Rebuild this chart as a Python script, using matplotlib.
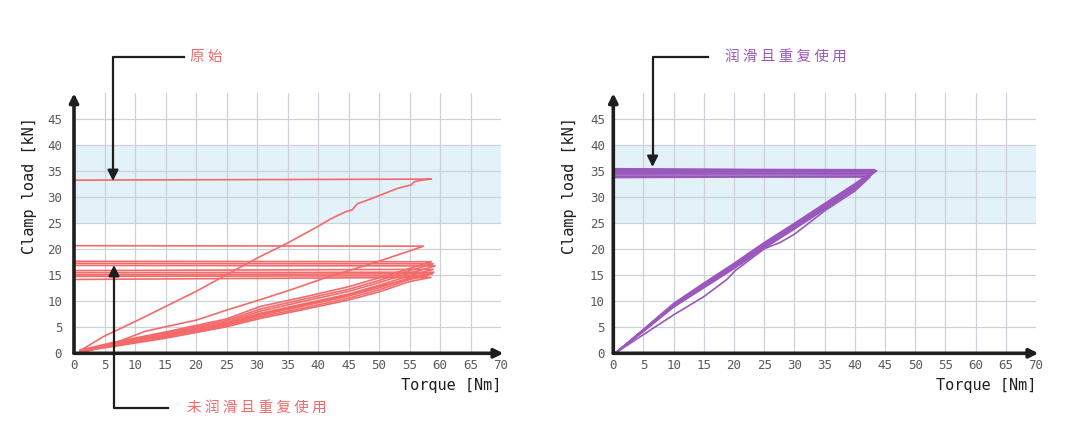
import matplotlib
matplotlib.use("Agg")
import matplotlib.pyplot as plt
from matplotlib.lines import Line2D
from matplotlib.patches import FancyArrowPatch

# ---------------- data ----------------
x_ticks = [0, 5, 10, 15, 20, 25, 30, 35, 40, 45, 50, 55, 60, 65, 70]
y_ticks = [0, 5, 10, 15, 20, 25, 30, 35, 40, 45]
band_low, band_high = 25, 40

# unlubricated & reused (red) – each cycle: tightening curve then torque release
red_x1 = [1.0, 4.8, 10, 15, 20, 25, 30, 35, 40, 42, 44.5, 45.6, 46.5, 48, 50.2, 53, 55.3, 55.8, 57, 58.6, 0]
red_y1 = [0.5, 3.2, 6.1, 9.0, 11.9, 15.1, 18.3, 21.2, 24.4, 25.8, 27.2, 27.6, 28.8, 29.4, 30.4, 31.7, 32.4, 33.0, 33.3, 33.5, 33.3]
red_x2 = [2.0, 6.5, 11.6, 15, 20.1, 25, 30.5, 36, 41.4, 44.5, 49.7, 55.3, 57.3, 0]
red_y2 = [0.3, 1.9, 4.2, 5.1, 6.4, 8.3, 10.3, 12.4, 14.6, 15.7, 17.6, 19.8, 20.6, 20.7]
cluster_x = [1.0, 6.4, 15, 25, 30.5, 38, 45, 50, 55]
red_c1_y = [0.6, 2.1, 4.1, 6.6, 9.0, 10.9, 12.8, 14.5, 16.3]
red_c2_y = [0.4, 1.9, 3.9, 6.3, 8.5, 10.5, 12.3, 14.0, 15.9]
red_c3_y = [0.3, 1.8, 3.7, 6.0, 8.1, 10.1, 11.9, 13.6, 15.4]
red_c4_y = [0.5, 1.7, 3.5, 5.8, 7.7, 9.6, 11.4, 13.1, 14.9]
red_c5_y = [0.2, 1.5, 3.3, 5.5, 7.3, 9.2, 11.0, 12.6, 14.5]
red_c6_y = [0.6, 1.4, 3.1, 5.3, 7.0, 8.8, 10.6, 12.2, 14.2]
red_c7_y = [0.4, 1.3, 2.9, 5.1, 6.7, 8.5, 10.25, 11.8, 13.8]
red_c8_y = [0.3, 1.6, 3.4, 5.6, 7.5, 9.4, 11.2, 12.9, 14.3]
red_peak_x = [58.6, 58.9, 59.2, 58.9, 59.0, 58.8, 58.5, 58.0]
red_peak_y = [17.6, 17.2, 16.8, 16.15, 15.6, 15.3, 14.6, 14.9]
red_release_y = [17.7, 17.3, 16.9, 15.9, 15.5, 15.1, 14.2, 14.8]

# lubricated & reused (purple)
pur_x = [0.3, 5, 10, 15, 20, 25, 30, 35, 40]
pur_y1 = [0, 4.5, 9.4, 13.2, 16.9, 20.9, 24.6, 28.4, 32.2]
pur_y2 = [0, 4.3, 9.1, 12.9, 16.6, 20.6, 24.3, 28.1, 31.9]
pur_y3 = [0, 4.6, 9.6, 13.5, 17.3, 21.3, 25.0, 28.8, 32.6]
pur_y4 = [0, 4.2, 8.9, 12.6, 16.3, 20.2, 23.9, 27.7, 31.5]
pur_y6 = [0, 4.4, 9.2, 13.0, 16.8, 20.7, 24.5, 28.3, 32.0]
pur_y7 = [0, 4.5, 9.3, 13.1, 17.0, 21.0, 24.7, 28.0, 31.7]
pur_y8 = [0, 4.3, 9.0, 12.8, 16.5, 20.4, 24.2, 27.9, 31.6]
pur_y9 = [0, 4.5, 9.4, 13.3, 17.1, 21.1, 24.8, 28.6, 32.4]
pur_peak_x = [43.5, 43.0, 43.3, 42.6, 43.2, 42.9, 42.2, 43.6]
pur_peak_y = [35.0, 34.7, 35.3, 34.3, 34.9, 34.5, 34.0, 35.1]
pur_release_y = [35.2, 34.6, 35.4, 34.3, 35.0, 34.8, 33.8, 35.5]
pur_x5 = [0.3, 5, 10, 15, 18.8, 20.2, 25, 27.6, 30, 35, 40, 42.5, 0]
pur_y5 = [0, 3.6, 7.4, 10.9, 14.2, 15.9, 20.1, 21.3, 22.9, 27.4, 31.2, 33.9, 34.0]

RED = "#f36a6a"
PURPLE = "#9a58bd"
GRID = "#cdd2d8"
BAND = "#e3f1f9"
INK = "#1e1e1e"
MONO = "DejaVu Sans Mono"
CJK = ["Noto Sans CJK SC", "DejaVu Sans"]

W, H = 1080, 442
fig = plt.figure(figsize=(W / 100, H / 100), dpi=100)
fig.patch.set_facecolor("white")


def setup(ax, ypad):
    ax.set_xlim(0, 70)
    ax.set_ylim(0, 50)
    for s in ax.spines.values():
        s.set_visible(False)
    ax.axhspan(band_low, band_high, xmin=0, xmax=1, color=BAND, zorder=0, lw=0)
    for xv in x_ticks[1:-1]:
        ax.plot([xv, xv], [0, 50], color=GRID, lw=0.9, zorder=1)
    for yv in y_ticks[1:]:
        ax.plot([0, 70], [yv, yv], color=GRID, lw=0.9, zorder=1)
    ax.set_xticks(x_ticks)
    ax.set_yticks(y_ticks)
    ax.tick_params(length=0, labelsize=9, labelcolor="#5a5a5a")
    ax.tick_params(axis="y", pad=ypad)
    ax.tick_params(axis="x", pad=4)
    for lab in ax.get_xticklabels() + ax.get_yticklabels():
        lab.set_fontfamily(MONO)
    ax.annotate("", xy=(70.4, 0), xytext=(0, 0),
                arrowprops=dict(arrowstyle="-|>", lw=2.6, color=INK,
                                mutation_scale=13, shrinkA=0, shrinkB=0),
                annotation_clip=False, zorder=5)
    ax.annotate("", xy=(0, 50), xytext=(0, 0),
                arrowprops=dict(arrowstyle="-|>", lw=2.6, color=INK,
                                mutation_scale=13, shrinkA=0, shrinkB=0),
                annotation_clip=False, zorder=5)
    ax.text(1.0, -0.125, "Torque [Nm]", transform=ax.transAxes, ha="right",
            va="center", fontsize=11, family=MONO, color=INK)


def callout(points, tip, text, tx, color):
    # points in reference pixel coords (origin top-left)
    xs = [p[0] / W for p in points]
    ys = [1 - p[1] / H for p in points]
    fig.add_artist(Line2D(xs, ys, transform=fig.transFigure, color=INK, lw=1.6))
    fig.add_artist(FancyArrowPatch(
        (points[-1][0] / W, 1 - points[-1][1] / H), (tip[0] / W, 1 - tip[1] / H),
        transform=fig.transFigure, arrowstyle="-|>", mutation_scale=16,
        color=INK, lw=1.6, shrinkA=0, shrinkB=0))
    fig.text(tx / W, 1 - points[0][1] / H, text, fontsize=10.5, family=CJK,
             color=color, ha="left", va="center")


bottom = (H - 353.3) / H
height = 260 / H

# ---------- left chart ----------
axL = fig.add_axes([74 / W, bottom, 427 / W, height])
setup(axL, 8.5)
axL.text(-0.104, 0.647, "Clamp load [kN]", transform=axL.transAxes, rotation=90,
         ha="center", va="center", fontsize=11, family=MONO, color=INK)
axL.plot(red_x1, red_y1, color=RED, lw=1.2, zorder=3)
axL.plot(red_x2, red_y2, color=RED, lw=1.2, zorder=3)
for cy, px, py, ry in zip([red_c1_y, red_c2_y, red_c3_y, red_c4_y,
                           red_c5_y, red_c6_y, red_c7_y, red_c8_y],
                          red_peak_x, red_peak_y, red_release_y):
    axL.plot(cluster_x + [px, 0], cy + [py, ry], color=RED, lw=1.2, zorder=3)

# ---------- right chart ----------
axR = fig.add_axes([613.3 / W, bottom, 422.7 / W, height])
setup(axR, 6)
axR.text(-0.104, 0.647, "Clamp load [kN]", transform=axR.transAxes, rotation=90,
         ha="center", va="center", fontsize=11, family=MONO, color=INK)
for cy, px, py, ry in zip([pur_y1, pur_y2, pur_y3, pur_y4, pur_y6, pur_y7, pur_y8, pur_y9],
                          pur_peak_x, pur_peak_y, pur_release_y):
    axR.plot(pur_x + [px, 0], cy + [py, ry], color=PURPLE, lw=1.2, zorder=3)
axR.plot(pur_x5, pur_y5, color=PURPLE, lw=1.2, zorder=3)

# ---------- callouts ----------
callout([(184, 56.7), (113, 56.7), (113, 170)], (113, 181), "原 始", 190, RED)
callout([(168, 408), (114, 408), (114, 276)], (114, 265), "未 润 滑 且 重 复 使 用", 187, RED)
callout([(708, 56.7), (652.6, 56.7), (652.6, 156)], (652.6, 167), "润 滑 且 重 复 使 用", 725, PURPLE)

fig.savefig("out.png", dpi=100, facecolor="white")
